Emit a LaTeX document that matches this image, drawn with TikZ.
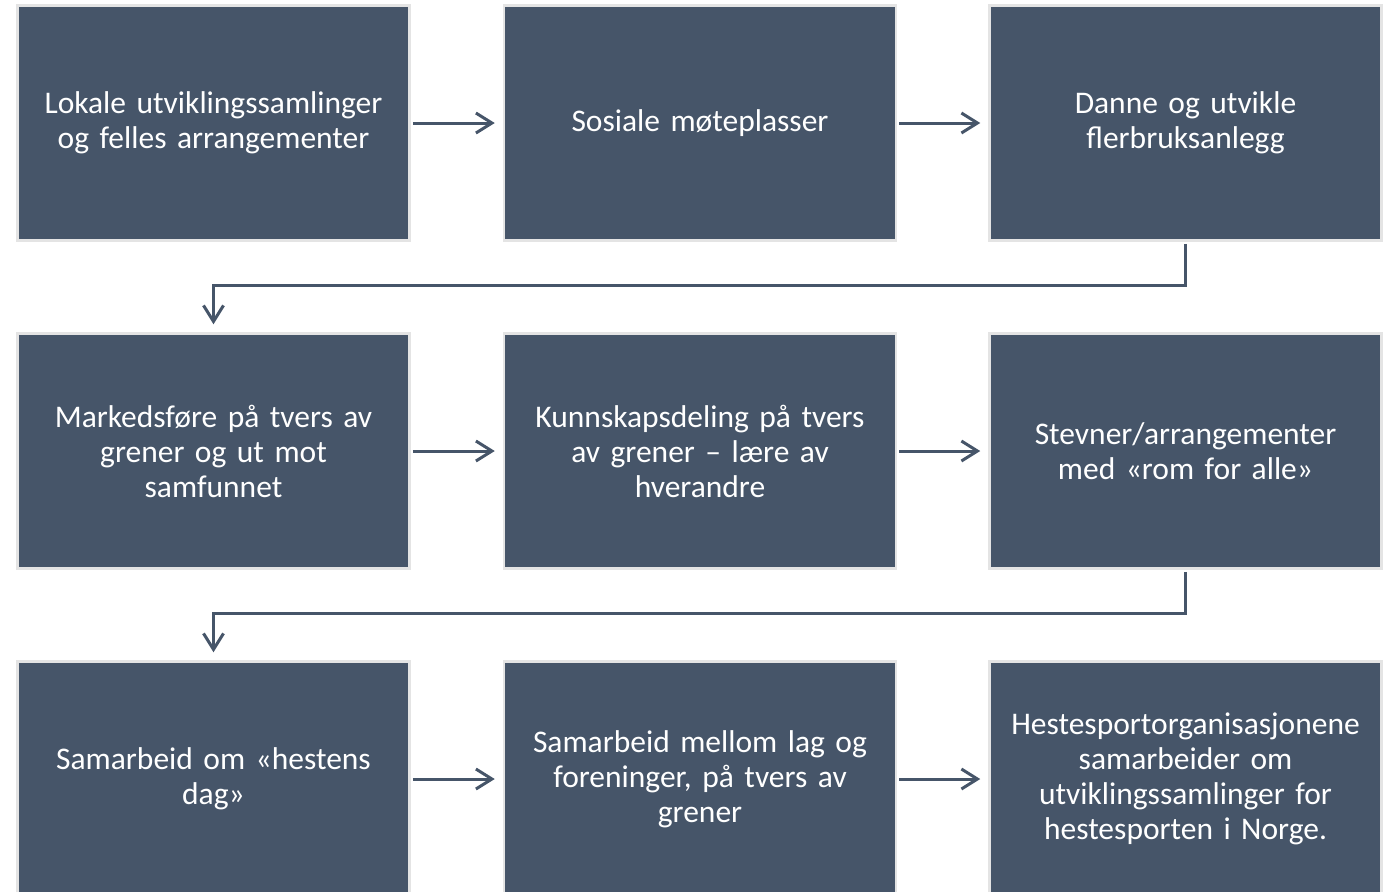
\documentclass[tikz,border=0pt]{standalone}
\usepackage{fontspec}
\setmainfont{Carlito}
\usetikzlibrary{arrows.meta}
\definecolor{boxfill}{HTML}{465569}
\definecolor{boxedge}{HTML}{E4E4E4}
\definecolor{linec}{HTML}{465569}
\tikzset{
  flowbox/.style={rectangle, fill=boxfill, draw=boxedge, line width=2.5pt,
    minimum width=392pt, minimum height=235pt, text width=375pt, align=center,
    text=white, font=\fontsize{31.5}{35}\selectfont, inner sep=0pt},
  flowarrow/.style={draw=linec, line width=3pt,
    -{Straight Barb[length=16pt,width=20pt,line width=3pt]},
    shorten >=8pt, shorten <=2pt}
}
\begin{document}
\begin{tikzpicture}[x=1pt,y=-1pt]
\useasboundingbox (0,0) rectangle (1393,892);
\begin{scope}
\clip (0,0) rectangle (1393,892);
\node[flowbox] (a1) at (213.5,123) {Lokale utviklingssamlinger\\og felles arrangementer};
\node[flowbox] (a2) at (700,123) {Sosiale møteplasser};
\node[flowbox] (a3) at (1185.5,123) {Danne og utvikle\\flerbruksanlegg};
\node[flowbox] (b1) at (213.5,451) {Markedsføre på tvers av\\grener og ut mot\\samfunnet};
\node[flowbox] (b2) at (700,451) {Kunnskapsdeling på tvers\\av grener – lære av\\hverandre};
\node[flowbox] (b3) at (1185.5,451) {Stevner/arrangementer\\med «rom for alle»};
\node[flowbox] (c1) at (213.5,779) {Samarbeid om «hestens\\dag»};
\node[flowbox] (c2) at (700,779) {Samarbeid mellom lag og\\foreninger, på tvers av\\grener};
\node[flowbox] (c3) at (1185.5,779) {Hestesportorganisasjonene\\samarbeider om\\utviklingssamlinger for\\hestesporten i Norge.};
\end{scope}
\draw[flowarrow] (a1) -- (a2);
\draw[flowarrow] (a2) -- (a3);
\draw[flowarrow] (b1) -- (b2);
\draw[flowarrow] (b2) -- (b3);
\draw[flowarrow] (c1) -- (c2);
\draw[flowarrow] (c2) -- (c3);
\draw[flowarrow] (a3.south) -- ++(0,44) -| (b1.north);
\draw[flowarrow] (b3.south) -- ++(0,44) -| (c1.north);
\end{tikzpicture}
\end{document}
